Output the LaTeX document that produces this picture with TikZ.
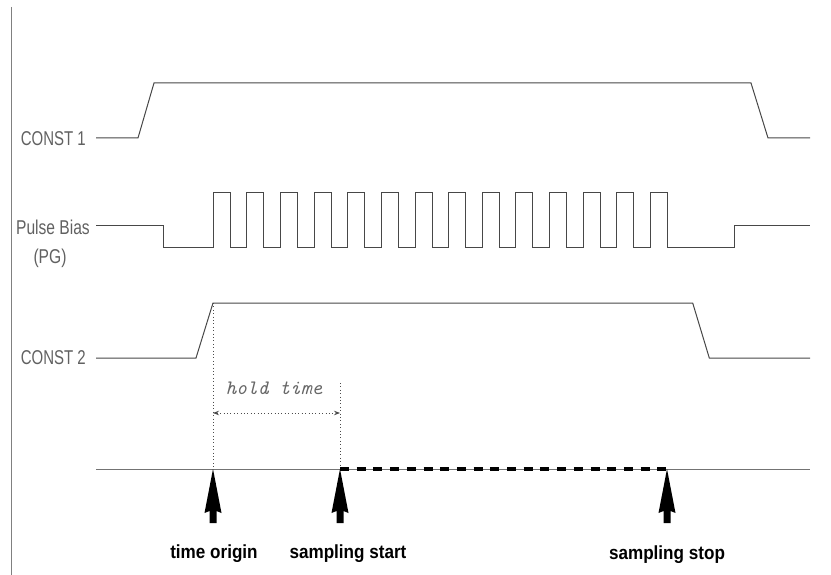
\documentclass[tikz,border=0pt]{standalone}
\usepackage{fontspec}
\setmainfont{Liberation Sans}
\usetikzlibrary{arrows.meta}
\tikzset{
  sig/.style={draw=black!72, line width=1pt, line join=miter},
  lbl/.style={inner sep=0pt, text=black!62, font=\fontsize{20}{20}\selectfont},
  evt/.style={inner sep=0pt, text=black, font=\fontsize{19}{19}\selectfont\bfseries},
  dots/.style={draw=black!70, line width=0.8pt, dash pattern=on 0.8pt off 2.6pt},
  bigarrow/.style={fill=black, draw=none},
}
\begin{document}
\begin{tikzpicture}[x=1pt,y=-1pt]
\useasboundingbox (0,0) rectangle (831,575);
% left border
\draw[black!50, line width=1.3pt] (11.5,7) -- (11.5,575);
% labels
\node[lbl, anchor=east] (c1) at (86,139) {\scalebox{0.75}[1]{CONST 1}};
\node[lbl, anchor=east] (pb) at (90,227) {\scalebox{0.78}[1]{Pulse Bias}};
\node[lbl] (pg) at (50,258) {\scalebox{0.78}[1]{(PG)}};
\node[lbl, anchor=east] (c2) at (86,358) {\scalebox{0.75}[1]{CONST 2}};
% CONST 1
\draw[sig] (96,138) -- (138,138) -- (154,83) -- (751,83) -- (768,138) -- (810,138);
% Pulse Bias
\draw[sig] (96,226) -- (163,226) -- (163,248)
  \foreach \k in {0,...,13}{
    -- ({213.3+33.62*\k},248) -- ({213.3+33.62*\k},193)
    -- ({230.3+33.62*\k},193) -- ({230.3+33.62*\k},248) }
  -- (734.3,248) -- (734.3,226) -- (810,226);
% CONST 2
\draw[sig] (96,358) -- (196,358) -- (213,303) -- (692.7,303) -- (709.3,358) -- (810,358);
% event coordinates
\coordinate (t0) at (213,469);
\coordinate (ts) at (340,469);
\coordinate (te) at (667,469);
\coordinate (t0top) at (213,303);
\coordinate (tstop) at (340,383);
\coordinate (h0) at (213,413);
\coordinate (h1) at (340,413);
% time axis
\coordinate (axl) at (96,469);
\coordinate (axr) at (810,469);
\draw[black!55, line width=1pt] (axl) -- (axr);
% hold time
\draw[dots] (t0top) -- (t0);
\draw[dots] (tstop) -- (ts);
\draw[dots, {Stealth[length=6pt,width=4.5pt]}-{Stealth[length=6pt,width=4.5pt]}] (h0) -- (h1);
\node[inner sep=0pt, text=black!60, font=\fontsize{20.5}{20.5}\selectfont\ttfamily\itshape] (ht) at (274,388) {hold time};
% sampling interval
\draw[black, line width=4.5pt, dash pattern=on 9pt off 7.7pt] (ts) -- (te);
% big arrows
\foreach \c in {t0,ts,te}{
  \fill[bigarrow] (\c) -- ++(8.5,44) -- ++(-5,-2) -- ++(0,12) -- ++(-7,0) -- ++(0,-12) -- ++(-5,2) -- cycle;
}
% event labels
\node[evt] (l0) at (214,554) {\scalebox{0.9}[1]{time origin}};
\node[evt] (ls) at (348,554) {\scalebox{0.9}[1]{sampling start}};
\node[evt] (le) at (667,555) {\scalebox{0.9}[1]{sampling stop}};
\end{tikzpicture}
\end{document}
